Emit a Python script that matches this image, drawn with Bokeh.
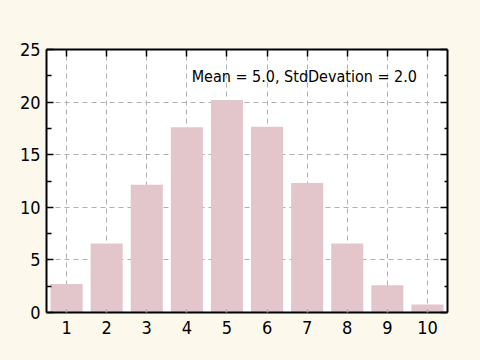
from bokeh.plotting import figure
from bokeh.models import LinearAxis, FixedTicker, Range1d, Label, ColumnDataSource
from bokeh.embed import file_html
from bokeh.resources import INLINE

categories = [1, 2, 3, 4, 5, 6, 7, 8, 9, 10]
values = [2.7, 6.55, 12.15, 17.6, 20.2, 17.65, 12.3, 6.55, 2.6, 0.75]
y_ticks = [0, 5, 10, 15, 20, 25]
minor_y = [2.5, 7.5, 12.5, 17.5, 22.5]
label_text = "Mean = 5.0, StdDevation = 2.0"

BG = "#FDF8EC"
BAR = "#E3C6CB"
FONT = "DejaVu Sans Condensed, Liberation Sans"

p = figure(width=480, height=360, output_backend="svg", toolbar_location=None,
           x_range=Range1d(0.5, 10.5), y_range=Range1d(0, 25),
           x_axis_location=None, y_axis_location=None,
           min_border_left=46, min_border_right=33, min_border_top=49, min_border_bottom=48)
p.border_fill_color = BG
p.background_fill_color = "white"
p.outline_line_color = None

def style(ax, ticks, minor=None, labels=True):
    ax.ticker = FixedTicker(ticks=ticks, minor_ticks=minor or [])
    ax.axis_line_width = 2
    ax.axis_line_color = "black"
    ax.major_tick_in = 7
    ax.major_tick_out = 0
    ax.major_tick_line_width = 1.5
    ax.minor_tick_in = 5
    ax.minor_tick_out = 0
    ax.minor_tick_line_width = 1.5
    ax.major_label_text_font = FONT
    ax.major_label_text_font_size = "18px"
    ax.major_label_text_color = "black"
    if not labels:
        ax.major_label_overrides = {t: "" for t in ticks}

left = LinearAxis()
style(left, y_ticks, minor_y)
left.major_label_standoff = 6
p.add_layout(left, "left")

right = LinearAxis()
style(right, y_ticks, minor_y, labels=False)
right.minor_tick_in = 3
p.add_layout(right, "right")

bottom = LinearAxis()
style(bottom, categories)
bottom.major_tick_in = 3
bottom.major_tick_line_color = "#aaaaaa"
bottom.major_label_standoff = 8
p.add_layout(bottom, "below")

top = LinearAxis()
style(top, categories, labels=False)
p.add_layout(top, "above")

p.xgrid.ticker = FixedTicker(ticks=categories)
p.ygrid.ticker = FixedTicker(ticks=y_ticks)
for g in (p.xgrid, p.ygrid):
    g.grid_line_color = "#B0B0B0"
    g.grid_line_dash = "5 4"
    g.grid_line_width = 1

src = ColumnDataSource(dict(x=categories, top=values))
p.vbar(x="x", top="top", width=0.8, source=src, fill_color=BAR, line_color=None)

p.add_layout(Label(x=4.12, y=22.45, text=label_text, text_font=FONT,
                   text_font_size="16px", text_color="black", text_baseline="alphabetic"))

html = file_html(p, INLINE)
html = html.replace("</head>", "<style>html,body{margin:0;padding:0;background:%s;}</style></head>" % BG, 1)
open("out.html", "w").write(html)
